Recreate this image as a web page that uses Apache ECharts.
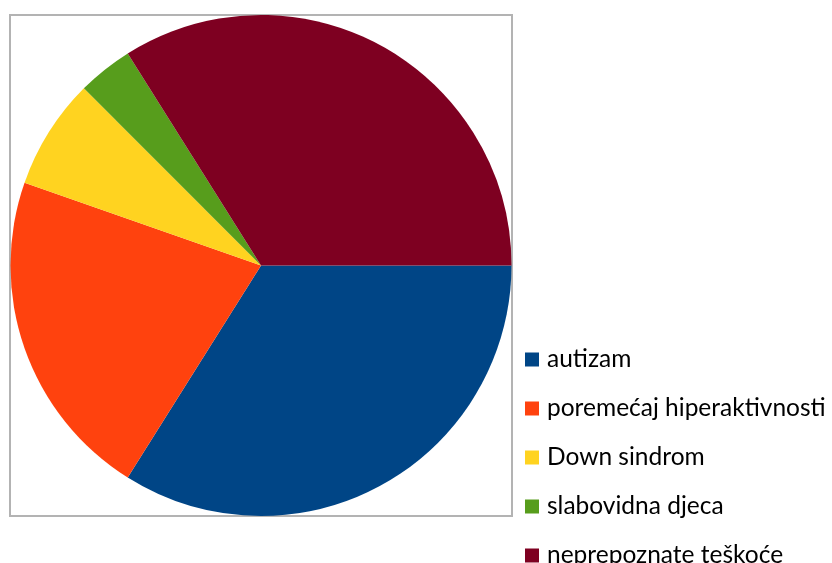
<!DOCTYPE html>
<html>
<head>
<meta charset="utf-8">
<script src="https://cdn.jsdelivr.net/npm/echarts@6/dist/echarts.min.js"></script>
<style>
  html, body { margin: 0; padding: 0; background: #fff; }
  #chart { width: 832px; height: 563px; }
</style>
</head>
<body>
<div id="chart"></div>
<script>
var chartDom = document.getElementById('chart');
var myChart = echarts.init(chartDom);

// podaci
var categories = ['autizam', 'poremećaj hiperaktivnosti', 'Down sindrom', 'slabovidna djeca', 'neprepoznate teškoće'];
var values = [19, 12, 4, 2, 19];
var colors = ['#004586', '#ff420e', '#ffd320', '#579d1c', '#7e0021'];

var pieData = categories.map(function (name, i) {
  return { name: name, value: values[i], itemStyle: { color: colors[i] } };
});

var option = {
  animation: false,
  graphic: [
    {
      type: 'rect',
      shape: { x: 10, y: 15, width: 502, height: 501 },
      style: { fill: 'none', stroke: '#b3b3b3', lineWidth: 2 },
      z: 0
    }
  ],
  legend: {
    orient: 'vertical',
    left: 525,
    top: 347,
    height: 260,
    padding: 0,
    itemWidth: 14,
    itemHeight: 14,
    itemGap: 24,
    icon: 'rect',
    data: categories,
    textStyle: {
      fontFamily: 'Lato',
      fontSize: 24.5,
      lineHeight: 24,
      color: '#000',
      padding: [0, 0, 0, 3]
    }
  },
  series: [
    {
      type: 'pie',
      center: [261, 265.5],
      radius: 250.5,
      startAngle: 0,
      clockwise: true,
      label: { show: false },
      labelLine: { show: false },
      silent: true,
      itemStyle: { borderWidth: 0 },
      data: pieData
    }
  ]
};

option && myChart.setOption(option);
</script>
</body>
</html>
